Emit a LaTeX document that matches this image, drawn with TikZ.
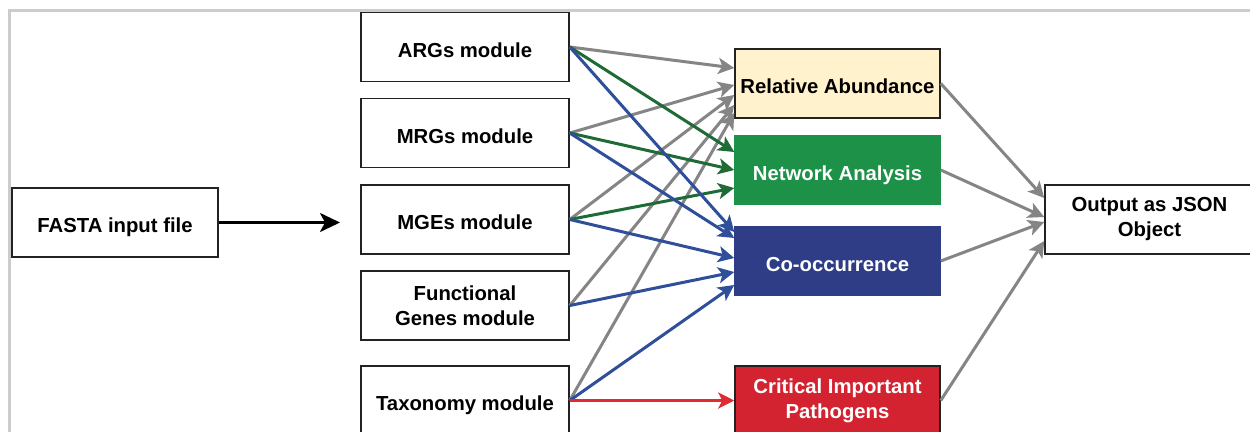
\documentclass[tikz,border=0pt]{standalone}
\usepackage{fontspec}
\setmainfont{Liberation Sans}
\usetikzlibrary{arrows.meta}
\definecolor{framegray}{HTML}{CCCCCC}
\definecolor{boxline}{HTML}{222222}
\definecolor{creamfill}{HTML}{FFF2CC}
\definecolor{greenfill}{HTML}{1E9148}
\definecolor{bluefill}{HTML}{2E3D86}
\definecolor{redfill}{HTML}{D32330}
\definecolor{arrgray}{HTML}{858585}
\definecolor{arrgreen}{HTML}{1F6B35}
\definecolor{arrblue}{HTML}{2F4F9B}
\definecolor{arrred}{HTML}{E12A32}
\tikzset{
  box/.style={draw=boxline, line width=1.5pt, fill=white, minimum height=69pt,
    inner sep=2pt, align=center, text=black,
    font=\fontsize{20.3}{25}\selectfont\bfseries},
  oneline/.style={text height=22pt, text depth=1.5pt},
  modbox/.style={box, minimum width=208pt},
  resbox/.style={box, minimum width=205pt},
  conn/.style={line width=3pt, -{Stealth[length=16pt,width=16pt,inset=4pt]}},
  gconn/.style={conn, draw=arrgray, fill=arrgray},
  grconn/.style={conn, draw=arrgreen, fill=arrgreen},
  bconn/.style={conn, draw=arrblue, fill=arrblue},
  rconn/.style={conn, draw=arrred, fill=arrred},
}
\begin{document}
\begin{tikzpicture}[x=1pt,y=-1pt]
\path[use as bounding box, clip] (0,0) rectangle (1250,431);
\fill[white] (0,0) rectangle (1250,431);
% frame
\draw[framegray, line width=3pt] (9.5,440) -- (9.5,10.5) -- (1260,10.5);

% nodes
\node[box, oneline, minimum width=206pt] (fasta) at (115,222.5) {FASTA input file};
\node[modbox, oneline] (args) at (465,47) {ARGs module};
\node[modbox, oneline] (mrgs) at (465,133) {MRGs module};
\node[modbox, oneline] (mges) at (465,219.5) {MGEs module};
\node[modbox] (func) at (465,305.5) {Functional\\Genes module};
\node[modbox, oneline] (tax) at (465,400.5) {Taxonomy module};

\node[resbox, oneline, fill=creamfill] (ra) at (837.5,83.5) {Relative Abundance};
\node[resbox, oneline, fill=greenfill, draw=greenfill, text=white] (na) at (837.5,170) {Network Analysis};
\node[resbox, oneline, fill=bluefill, draw=bluefill, text=white] (co) at (837.5,261) {Co-occurrence};
\node[resbox, fill=redfill, text=white] (cr) at (837.5,400.5) {Critical Important\\Pathogens};

\node[box, minimum width=209pt] (out) at (1149.5,219.5) {Output as JSON\\Object};

\coordinate (fastaend) at (340,222.5);
\draw[line width=2.5pt, -{Stealth[length=20pt,width=19pt,inset=5pt]}] (fasta.east) -- (fastaend);

% gray to relative abundance
\draw[gconn] (args.east) -- ([yshift=15.5pt]ra.west);
\draw[gconn] (mrgs.east) -- ([yshift=-1.5pt]ra.west);
\draw[gconn] (mges.east) -- ([yshift=-11.5pt]ra.west);
\draw[gconn] (func.east) -- ([yshift=-21.5pt]ra.west);
\draw[gconn] (tax.east) -- ([yshift=-29.5pt]ra.west);

% green to network analysis
\draw[grconn] (args.east) -- ([yshift=18pt]na.west);
\draw[grconn] (mrgs.east) -- (na.west);
\draw[grconn] (mges.east) -- ([yshift=-18pt]na.west);

% blue to co-occurrence
\draw[bconn] (args.east) -- ([yshift=29pt]co.west);
\draw[bconn] (mrgs.east) -- ([yshift=23pt]co.west);
\draw[bconn] (mges.east) -- ([yshift=3pt]co.west);
\draw[bconn] (func.east) -- ([yshift=-11pt]co.west);
\draw[bconn] (tax.east) -- ([yshift=-24pt]co.west);

% red
\draw[rconn] (tax.east) -- (cr.west);

% to output
\draw[gconn] (ra.east) -- ([yshift=21.5pt]out.west);
\draw[gconn] (na.east) -- ([yshift=2.5pt]out.west);
\draw[gconn] (co.east) -- ([yshift=-2.5pt]out.west);
\draw[gconn] (cr.east) -- ([yshift=-21.5pt]out.west);
\end{tikzpicture}
\end{document}
